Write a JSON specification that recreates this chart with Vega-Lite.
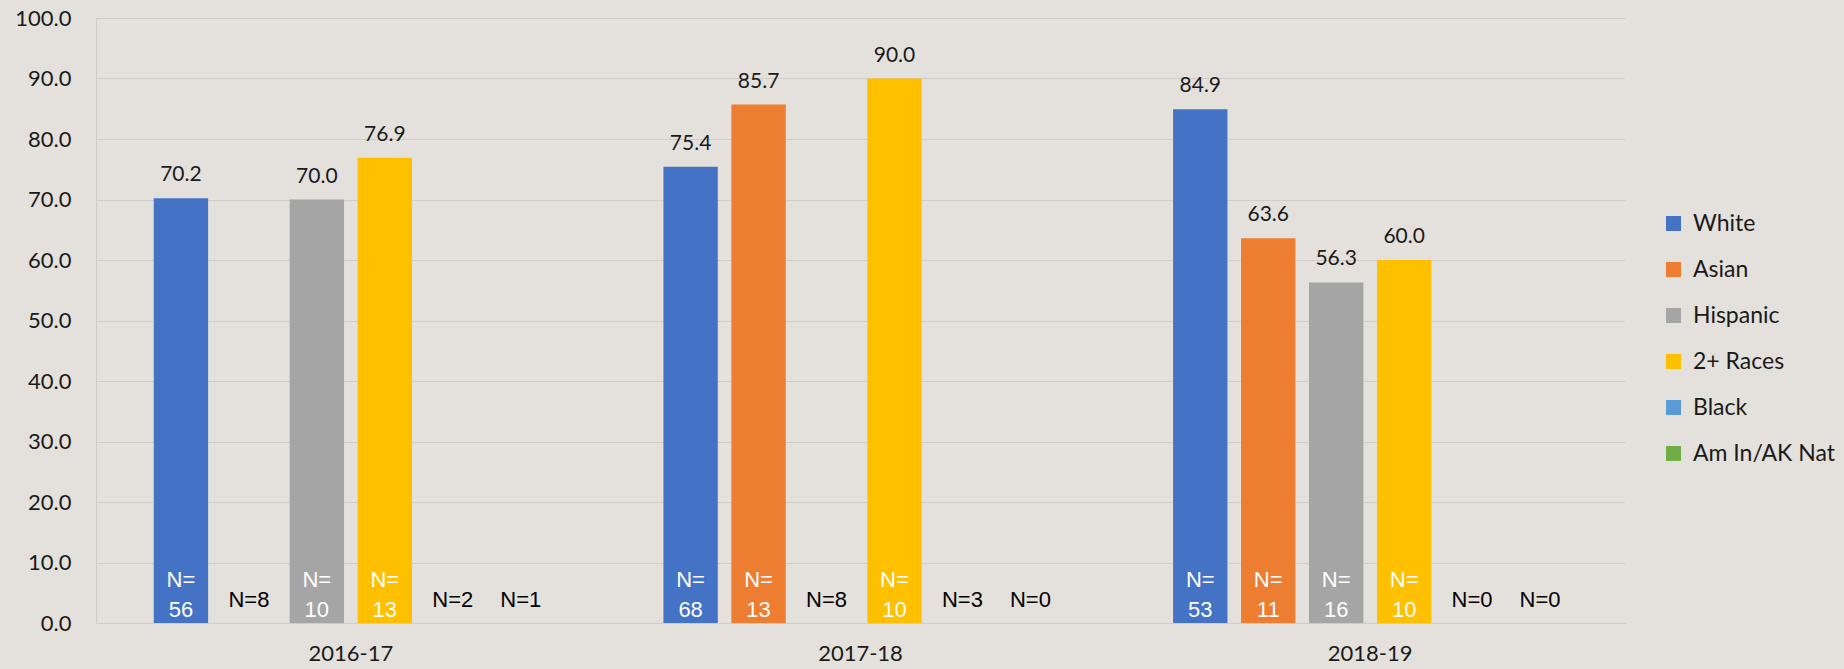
{
  "$schema": "https://vega.github.io/schema/vega-lite/v6.json",
  "width": 1529,
  "height": 605,
  "autosize": {"type": "none"},
  "padding": {"left": 96, "top": 18, "right": 219, "bottom": 46},
  "background": "#e4e1dd",
  "config": {"view": {"stroke": null}, "font": "Lato"},
  "data": {
    "values": [
      {"year": "2016-17", "group": "White", "value": 70.2, "nlabel": "N=\n56"},
      {"year": "2016-17", "group": "Asian", "value": null, "nlabel": "N=8"},
      {"year": "2016-17", "group": "Hispanic", "value": 70.0, "nlabel": "N=\n10"},
      {"year": "2016-17", "group": "2+ Races", "value": 76.9, "nlabel": "N=\n13"},
      {"year": "2016-17", "group": "Black", "value": null, "nlabel": "N=2"},
      {"year": "2016-17", "group": "Am In/AK Nat", "value": null, "nlabel": "N=1"},
      {"year": "2017-18", "group": "White", "value": 75.4, "nlabel": "N=\n68"},
      {"year": "2017-18", "group": "Asian", "value": 85.7, "nlabel": "N=\n13"},
      {"year": "2017-18", "group": "Hispanic", "value": null, "nlabel": "N=8"},
      {"year": "2017-18", "group": "2+ Races", "value": 90.0, "nlabel": "N=\n10"},
      {"year": "2017-18", "group": "Black", "value": null, "nlabel": "N=3"},
      {"year": "2017-18", "group": "Am In/AK Nat", "value": null, "nlabel": "N=0"},
      {"year": "2018-19", "group": "White", "value": 84.9, "nlabel": "N=\n53"},
      {"year": "2018-19", "group": "Asian", "value": 63.6, "nlabel": "N=\n11"},
      {"year": "2018-19", "group": "Hispanic", "value": 56.3, "nlabel": "N=\n16"},
      {"year": "2018-19", "group": "2+ Races", "value": 60.0, "nlabel": "N=\n10"},
      {"year": "2018-19", "group": "Black", "value": null, "nlabel": "N=0"},
      {"year": "2018-19", "group": "Am In/AK Nat", "value": null, "nlabel": "N=0"}
    ]
  },
  "encoding": {
    "x": {
      "field": "year",
      "type": "nominal",
      "title": null,
      "scale": {"paddingInner": 0.2, "paddingOuter": 0.1},
      "axis": {
        "labelAngle": 0,
        "ticks": false,
        "domain": true,
        "domainColor": "#d0cdc9",
        "labelFont": "Lato",
        "labelFontSize": 22,
        "labelColor": "#1a1a1a",
        "labelPadding": 20
      }
    },
    "xOffset": {
      "field": "group",
      "type": "nominal",
      "scale": {
        "domain": ["White", "Asian", "Hispanic", "2+ Races", "Black", "Am In/AK Nat"],
        "paddingInner": 0.2,
        "paddingOuter": 0.1
      }
    }
  },
  "layer": [
    {
      "transform": [{"filter": "datum.value != null"}],
      "mark": {"type": "bar"},
      "encoding": {
        "y": {
          "field": "value",
          "type": "quantitative",
          "title": null,
          "scale": {"domain": [0, 100]},
          "axis": {
            "values": [0, 10, 20, 30, 40, 50, 60, 70, 80, 90, 100],
            "format": ".1f",
            "ticks": false,
            "domain": true,
            "domainColor": "#d0cdc9",
            "gridColor": "#d0cdc9",
            "labelFont": "Lato",
            "labelFontSize": 22,
            "labelColor": "#1a1a1a",
            "labelPadding": 25
          }
        },
        "color": {
          "field": "group",
          "type": "nominal",
          "scale": {
            "domain": ["White", "Asian", "Hispanic", "2+ Races", "Black", "Am In/AK Nat"],
            "range": ["#4472C4", "#ED7D31", "#A5A5A5", "#FFC000", "#5B9BD5", "#70AD47"]
          },
          "legend": {
            "title": null,
            "orient": "none",
            "legendX": 1566,
            "legendY": 194,
            "symbolType": "square",
            "symbolSize": 225,
            "symbolStrokeWidth": 0,
            "labelFont": "Lato",
            "labelFontSize": 23,
            "labelColor": "#1a1a1a",
            "rowPadding": 22,
            "labelOffset": 8
          }
        }
      }
    },
    {
      "transform": [{"filter": "datum.value != null"}],
      "mark": {"type": "text", "baseline": "alphabetic", "dy": -17, "font": "Lato", "fontSize": 21, "color": "#1a1a1a"},
      "encoding": {
        "y": {"field": "value", "type": "quantitative"},
        "text": {"field": "value", "type": "quantitative", "format": ".1f"}
      }
    },
    {
      "transform": [{"filter": "datum.value != null"}],
      "mark": {"type": "text", "baseline": "bottom", "dy": -31, "font": "Liberation Sans", "fontSize": 22, "lineHeight": 30, "lineBreak": "\n", "color": "#ffffff"},
      "encoding": {
        "y": {"datum": 0},
        "text": {"field": "nlabel", "type": "nominal"}
      }
    },
    {
      "transform": [{"filter": "datum.value == null"}],
      "mark": {"type": "text", "baseline": "bottom", "dy": -11, "font": "Liberation Sans", "fontSize": 22, "color": "#000000"},
      "encoding": {
        "y": {"datum": 0},
        "text": {"field": "nlabel", "type": "nominal"}
      }
    }
  ]
}
